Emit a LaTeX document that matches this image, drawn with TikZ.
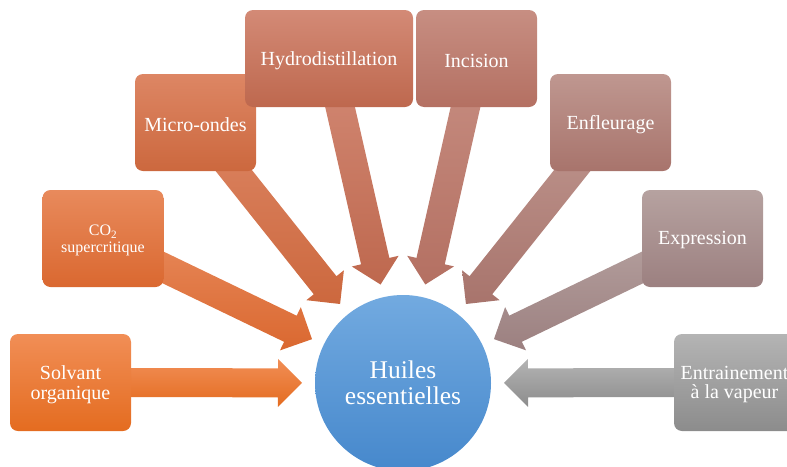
\documentclass[tikz,border=0pt]{standalone}
\usepackage{fontspec}
\setmainfont{Liberation Serif}
\usetikzlibrary{calc}
\tikzset{
  box/.style={rounded corners=8pt, minimum width=121pt, minimum height=97pt, inner sep=2pt},
  lbl/.style={align=center, text=white, font=\fontsize{20}{19.5}\selectfont, yshift=-2pt},
  hub/.style={circle, minimum size=176pt, inner sep=0pt, align=center, text=white,
    font=\fontsize{25.5}{26}\selectfont, top color=hubtop, bottom color=hubbot},
}
\definecolor{hubtop}{RGB}{114,170,224}
\definecolor{hubbot}{RGB}{70,136,204}
\definecolor{solT}{RGB}{241,142,86}\definecolor{solB}{RGB}{228,108,32}
\definecolor{coT}{RGB}{232,138,92}\definecolor{coB}{RGB}{218,104,48}
\definecolor{miT}{RGB}{221,134,100}\definecolor{miB}{RGB}{204,104,62}
\definecolor{hyT}{RGB}{211,138,118}\definecolor{hyB}{RGB}{190,104,78}
\definecolor{inT}{RGB}{199,142,130}\definecolor{inB}{RGB}{180,112,98}
\definecolor{enT}{RGB}{191,151,144}\definecolor{enB}{RGB}{168,116,108}
\definecolor{exT}{RGB}{182,162,160}\definecolor{exB}{RGB}{156,128,128}
\definecolor{vaT}{RGB}{180,180,180}\definecolor{vaB}{RGB}{140,140,140}
\newcommand\blockarrow[3]{%
  \coordinate (t#1) at ($(hub.center)!101pt!(#1.center)$);
  \coordinate (h#1) at ($(t#1)!24pt!(#1.center)$);
  \shade[top color=#2, bottom color=#3]
    ($(#1.center)!14.5pt!90:(t#1)$) -- ($(h#1)!14.5pt!-90:(#1.center)$) --
    ($(h#1)!24pt!-90:(#1.center)$) -- (t#1) --
    ($(h#1)!24pt!90:(#1.center)$) -- ($(h#1)!14.5pt!90:(#1.center)$) --
    ($(#1.center)!14.5pt!-90:(t#1)$) -- cycle;
}
\begin{document}
\begin{tikzpicture}[x=1pt, y=-1pt]
\useasboundingbox (0,0) rectangle (787,466);
\clip (0,0) rectangle (787,466);
% geometry nodes
\node[inner sep=0pt, minimum size=176pt, circle] (hub) at (403,383) {};
\node[box] (sol) at (70.5,382.5) {};
\node[box] (co) at (103,238.5) {};
\node[box] (mi) at (195.5,122.5) {};
\node[box, minimum width=168pt] (hy) at (329,58.5) {};
\node[box] (in) at (476.5,58.5) {};
\node[box] (en) at (610.5,122.5) {};
\node[box] (ex) at (702.5,238.5) {};
\node[box] (va) at (734.5,382.5) {};
% block arrows
\blockarrow{sol}{solT}{solB}
\blockarrow{co}{coT}{coB}
\blockarrow{mi}{miT}{miB}
\blockarrow{hy}{hyT}{hyB}
\blockarrow{in}{inT}{inB}
\blockarrow{en}{enT}{enB}
\blockarrow{ex}{exT}{exB}
\blockarrow{va}{vaT}{vaB}
% boxes drawn over the arrow tails
\node[box, top color=solT, bottom color=solB, label={[lbl]center:{Solvant\\organique}}] (solbox) at (sol.center) {};
\node[box, top color=coT, bottom color=coB, label={[lbl, font=\fontsize{16}{17}\selectfont]center:{CO\textsubscript{2}\\supercritique}}] (cobox) at (co.center) {};
\node[box, top color=miT, bottom color=miB, label={[lbl]center:{Micro-ondes}}] (mibox) at (mi.center) {};
\node[box, top color=hyT, bottom color=hyB, minimum width=168pt, label={[lbl]center:{Hydrodistillation}}] (hybox) at (hy.center) {};
\node[box, top color=inT, bottom color=inB, label={[lbl]center:{Incision}}] (inbox) at (in.center) {};
\node[box, top color=enT, bottom color=enB, label={[lbl]center:{Enfleurage}}] (enbox) at (en.center) {};
\node[box, top color=exT, bottom color=exB, label={[lbl]center:{Expression}}] (exbox) at (ex.center) {};
\node[box, top color=vaT, bottom color=vaB, label={[lbl]center:{Entrainement\\à la vapeur}}] (vabox) at (va.center) {};
\node[hub] (hubbox) at (hub.center) {Huiles\\essentielles};
\end{tikzpicture}
\end{document}
